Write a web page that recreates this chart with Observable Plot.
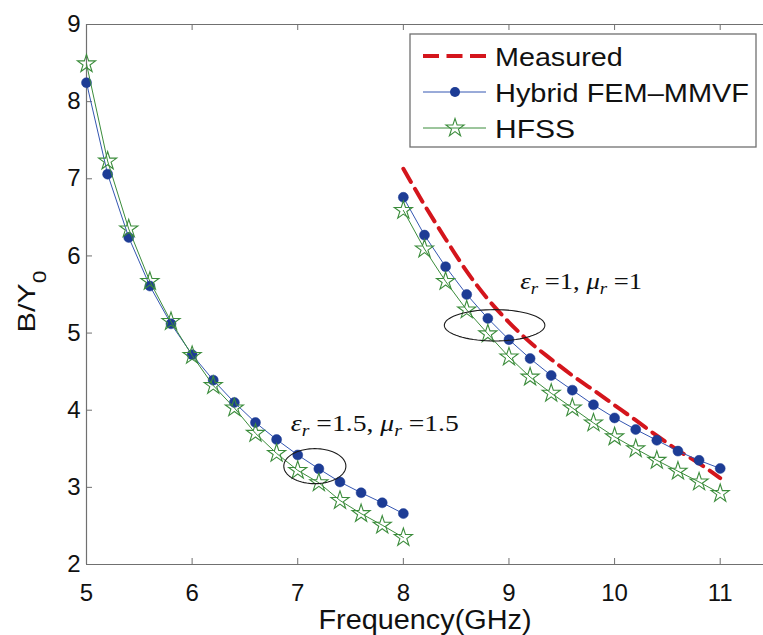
<!DOCTYPE html>
<html><head><meta charset="utf-8">
<script src="https://cdn.jsdelivr.net/npm/d3@7"></script>
<script src="https://cdn.jsdelivr.net/npm/@observablehq/plot@0.6"></script>
<style>
body{margin:0;background:#fff;overflow:hidden}
#chart{position:relative;width:763px;height:635px}
</style></head><body><div id="chart"></div>
<script>
// ---------- data ----------
const xTicks = [5, 6, 7, 8, 9, 10, 11];
const yTicks = [2, 3, 4, 5, 6, 7, 8, 9];

// eps_r = 1.5, mu_r = 1.5 case
const freqLow   = [5.0, 5.2, 5.4, 5.6, 5.8, 6.0, 6.2, 6.4, 6.6, 6.8, 7.0, 7.2, 7.4, 7.6, 7.8, 8.0];
const hybridLow = [8.245, 7.06, 6.24, 5.61, 5.12, 4.72, 4.39, 4.10, 3.84, 3.62, 3.42, 3.24, 3.07, 2.93, 2.80, 2.66];
const hfssLow   = [8.49, 7.23, 6.35, 5.67, 5.15, 4.71, 4.32, 4.03, 3.70, 3.44, 3.22, 3.06, 2.83, 2.66, 2.51, 2.35];

// eps_r = 1, mu_r = 1 case
const freqHigh   = [8.0, 8.2, 8.4, 8.6, 8.8, 9.0, 9.2, 9.4, 9.6, 9.8, 10.0, 10.2, 10.4, 10.6, 10.8, 11.0];
const hybridHigh = [6.76, 6.27, 5.86, 5.50, 5.19, 4.915, 4.67, 4.45, 4.26, 4.07, 3.90, 3.75, 3.61, 3.47, 3.35, 3.245];
const hfssHigh   = [6.59, 6.09, 5.67, 5.30, 4.99, 4.69, 4.43, 4.22, 4.03, 3.835, 3.655, 3.50, 3.35, 3.21, 3.07, 2.92];
const measured   = [7.13, 6.66, 6.22, 5.80, 5.44, 5.14, 4.88, 4.66, 4.45, 4.26, 4.065, 3.87, 3.67, 3.48, 3.31, 3.12];

const seriesNames = ["Measured", "Hybrid FEM–MMVF", "HFSS"];
const xLabel = "Frequency(GHz)";
const yLabelParts = [{t: "B/Y"}, {t: "0", sub: true}];

const annotations = [
  {x: 6.935, y: 3.732, parts: [{t: "ε", i: true}, {t: "r", i: true, sub: true}, {t: " =1.5, "}, {t: "μ", i: true}, {t: "r", i: true, sub: true}, {t: " =1.5"}]},
  {x: 9.106, y: 5.576, parts: [{t: "ε", i: true}, {t: "r", i: true, sub: true}, {t: " =1, "}, {t: "μ", i: true}, {t: "r", i: true, sub: true}, {t: " =1"}]}
];
// ellipses marking each group (centre and radii in data units)
const ellipses = [
  {cx: 7.162, cy: 3.275, rx: 0.294, ry: 0.227},
  {cx: 8.864, cy: 5.101, rx: 0.476, ry: 0.203}
];

// ---------- styles ----------
const C = {red: "#d4151c", blueDot: "#1d3c95", blueLine: "#3456b2", green: "#3b8c3b", frame: "#707070", text: "#111"};
const W = 763, H = 635, mL = 86, mT = 24, mB = 71, mR = 0;
const plotW = W - mL - mR, plotH = H - mT - mB;
const dotR = 5, starR = 5.7;
const annWidths = [168, 122];

const toRows = (xs, ys) => xs.map((x, i) => ({x, y: ys[i]}));
const lowH = toRows(freqLow, hybridLow), lowS = toRows(freqLow, hfssLow);
const highH = toRows(freqHigh, hybridHigh), highS = toRows(freqHigh, hfssHigh), meas = toRows(freqHigh, measured);
const ellipsePts = ellipses.flatMap((e, k) => d3.range(0, 361, 5).map(a => ({k, x: e.cx + e.rx * Math.cos(a * Math.PI / 180), y: e.cy + e.ry * Math.sin(a * Math.PI / 180)})));
const plainText = parts => parts.map(p => p.t).join("");

const chart = Plot.plot({
  width: W, height: H, marginLeft: mL, marginRight: mR, marginTop: mT, marginBottom: mB,
  x: {domain: [5, 11.41], axis: null},
  y: {domain: [2, 9], axis: null},
  style: {fontFamily: "'Liberation Sans', Arial, sans-serif", background: "#fff", overflow: "visible"},
  marks: [
    Plot.ruleY([2, 9], {stroke: C.frame, strokeWidth: 1.2}),
    Plot.ruleX([5], {stroke: C.frame, strokeWidth: 1.2}),
    Plot.tickX(xTicks, {x: d => d, insetTop: plotH - 6, stroke: C.frame}),
    Plot.tickX(xTicks, {x: d => d, insetBottom: plotH - 6, stroke: C.frame}),
    Plot.tickY(yTicks, {y: d => d, insetRight: plotW - 6, stroke: C.frame}),
    Plot.axisX(xTicks, {tickSize: 0, tickPadding: 19, fontSize: 24, fill: C.text, label: null, tickFormat: d => String(d)}),
    Plot.axisY(yTicks, {tickSize: 0, tickPadding: 6, fontSize: 24, fill: C.text, label: null, tickFormat: d => String(d)}),
    // Measured
    Plot.line(meas, {x: "x", y: "y", stroke: C.red, strokeWidth: 4, strokeDasharray: "15,8", curve: "monotone-x"}),
    // Hybrid FEM-MMVF
    Plot.line(lowH, {x: "x", y: "y", stroke: C.blueLine, strokeWidth: 1}),
    Plot.line(highH, {x: "x", y: "y", stroke: C.blueLine, strokeWidth: 1}),
    Plot.dot(lowH.concat(highH), {x: "x", y: "y", r: dotR, fill: C.blueDot, stroke: C.blueDot, strokeWidth: 0.5}),
    // HFSS
    Plot.line(lowS, {x: "x", y: "y", stroke: C.green, strokeWidth: 1}),
    Plot.line(highS, {x: "x", y: "y", stroke: C.green, strokeWidth: 1}),
    Plot.dot(lowS.concat(highS), {x: "x", y: "y", symbol: "star", r: starR, fill: "none", stroke: C.green, strokeWidth: 1.1}),
    // annotations
    Plot.line(ellipsePts, {x: "x", y: "y", z: "k", stroke: "#1a1a1a", strokeWidth: 1.1}),
    Plot.text(annotations, {x: "x", y: "y", text: d => plainText(d.parts), textAnchor: "start", lineAnchor: "bottom", fontSize: 24, fontFamily: "'Liberation Serif', 'Times New Roman', serif", fill: C.text, ariaDescription: "annot"}),
    // axis titles
    Plot.text([xLabel], {frameAnchor: "bottom", dy: 45, lineAnchor: "top", textAnchor: "middle", fontSize: 27, fill: C.text, ariaDescription: "xlabel"}),
    Plot.text([yLabelParts], {text: d => plainText(d), frameAnchor: "left", dx: -69, dy: 7, rotate: -90, lineAnchor: "top", textAnchor: "middle", fontSize: 24, fill: C.text, ariaDescription: "ylabel"})
  ]
});

const svg = d3.select(chart);
function textNodes(label) {
  const out = [];
  svg.selectAll(`[aria-description="${label}"]`).each(function() {
    if (this.tagName.toLowerCase() === "text") out.push(this);
    else d3.select(this).selectAll("text").each(function() { out.push(this); });
  });
  return out;
}
function setRich(node, parts, subSize, shift) {
  const t = d3.select(node).style("white-space", "pre");
  t.text(null);
  let down = false;
  parts.forEach(p => {
    const s = t.append("tspan").text(p.t);
    if (p.i) s.attr("font-style", "italic");
    if (p.sub) { s.attr("font-size", subSize); if (!down) s.attr("dy", shift); down = true; }
    else if (down) { s.attr("dy", -shift); down = false; }
  });
}
textNodes("annot").forEach((node, i) => {
  setRich(node, annotations[i].parts, 17, 5.5);
  d3.select(node).attr("textLength", annWidths[i]).attr("lengthAdjust", "spacingAndGlyphs");
});
textNodes("ylabel").forEach(node => {
  setRich(node, yLabelParts, 18, 11);
  d3.select(node).attr("textLength", 62).attr("lengthAdjust", "spacingAndGlyphs");
});
textNodes("xlabel").forEach(node => d3.select(node).attr("textLength", 213).attr("lengthAdjust", "spacingAndGlyphs"));

// ---------- legend (inside the axes, top right) ----------
const lg = svg.append("g").attr("font-family", "'Liberation Sans', Arial, sans-serif").attr("font-size", 26).attr("fill", C.text).attr("text-anchor", "start");
lg.append("rect").attr("x", 410).attr("y", 34).attr("width", 346).attr("height", 113).attr("fill", "#fff").attr("stroke", C.frame).attr("stroke-width", 1.3);
const rowsY = [56, 92, 128], textW = [127.7, 254, 80];
const starPath = d3.symbol(d3.symbolStar, Math.PI * starR * starR)();
seriesNames.forEach((name, i) => {
  const y = rowsY[i];
  const ln = lg.append("line").attr("x1", 423).attr("x2", 486).attr("y1", y).attr("y2", y);
  if (i === 0) ln.attr("stroke", C.red).attr("stroke-width", 4).attr("stroke-dasharray", "16,7.5");
  if (i === 1) {
    ln.attr("stroke", C.blueLine).attr("stroke-width", 1);
    lg.append("circle").attr("cx", 455).attr("cy", y).attr("r", dotR).attr("fill", C.blueDot);
  }
  if (i === 2) {
    ln.attr("stroke", C.green).attr("stroke-width", 1);
    lg.append("path").attr("d", starPath).attr("transform", `translate(455,${y})`).attr("fill", "none").attr("stroke", C.green).attr("stroke-width", 1.1);
  }
  lg.append("text").attr("x", 495).attr("y", y + 9.5).attr("text-anchor", "start").text(name).attr("textLength", textW[i]).attr("lengthAdjust", "spacingAndGlyphs");
});

document.getElementById("chart").appendChild(chart);
</script></body></html>
